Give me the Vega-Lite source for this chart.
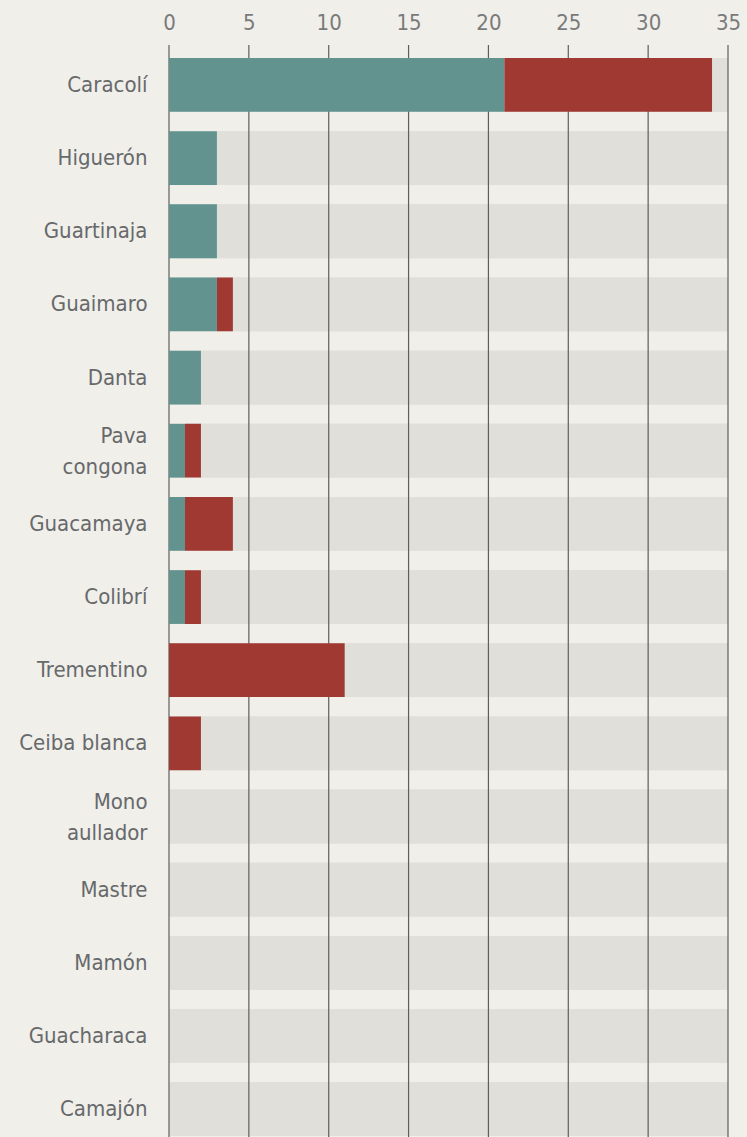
{
  "$schema": "https://vega.github.io/schema/vega-lite/v6.json",
  "autosize": {"type": "none"},
  "width": 559,
  "height": 1092,
  "padding": {"left": 169, "top": 45, "right": 19, "bottom": 0},
  "background": "#f0efea",
  "config": {
    "view": {"stroke": null},
    "font": "DejaVu Sans Condensed, Liberation Sans Narrow, Roboto, sans-serif"
  },
  "datasets": {
    "conteo": [
      {"especie": "Caracolí", "serie": "Grupo 1", "valor": 21},
      {"especie": "Caracolí", "serie": "Grupo 2", "valor": 13},
      {"especie": "Higuerón", "serie": "Grupo 1", "valor": 3},
      {"especie": "Higuerón", "serie": "Grupo 2", "valor": 0},
      {"especie": "Guartinaja", "serie": "Grupo 1", "valor": 3},
      {"especie": "Guartinaja", "serie": "Grupo 2", "valor": 0},
      {"especie": "Guaimaro", "serie": "Grupo 1", "valor": 3},
      {"especie": "Guaimaro", "serie": "Grupo 2", "valor": 1},
      {"especie": "Danta", "serie": "Grupo 1", "valor": 2},
      {"especie": "Danta", "serie": "Grupo 2", "valor": 0},
      {"especie": "Pava congona", "serie": "Grupo 1", "valor": 1},
      {"especie": "Pava congona", "serie": "Grupo 2", "valor": 1},
      {"especie": "Guacamaya", "serie": "Grupo 1", "valor": 1},
      {"especie": "Guacamaya", "serie": "Grupo 2", "valor": 3},
      {"especie": "Colibrí", "serie": "Grupo 1", "valor": 1},
      {"especie": "Colibrí", "serie": "Grupo 2", "valor": 1},
      {"especie": "Trementino", "serie": "Grupo 1", "valor": 0},
      {"especie": "Trementino", "serie": "Grupo 2", "valor": 11},
      {"especie": "Ceiba blanca", "serie": "Grupo 1", "valor": 0},
      {"especie": "Ceiba blanca", "serie": "Grupo 2", "valor": 2},
      {"especie": "Mono aullador", "serie": "Grupo 1", "valor": 0},
      {"especie": "Mono aullador", "serie": "Grupo 2", "valor": 0},
      {"especie": "Mastre", "serie": "Grupo 1", "valor": 0},
      {"especie": "Mastre", "serie": "Grupo 2", "valor": 0},
      {"especie": "Mamón", "serie": "Grupo 1", "valor": 0},
      {"especie": "Mamón", "serie": "Grupo 2", "valor": 0},
      {"especie": "Guacharaca", "serie": "Grupo 1", "valor": 0},
      {"especie": "Guacharaca", "serie": "Grupo 2", "valor": 0},
      {"especie": "Camajón", "serie": "Grupo 1", "valor": 0},
      {"especie": "Camajón", "serie": "Grupo 2", "valor": 0}
    ],
    "marcas": [
      {"v": 0}, {"v": 5}, {"v": 10}, {"v": 15}, {"v": 20}, {"v": 25}, {"v": 30}, {"v": 35}
    ]
  },
  "encoding": {
    "y": {
      "field": "especie",
      "type": "nominal",
      "sort": null,
      "scale": {
        "domain": ["Caracolí", "Higuerón", "Guartinaja", "Guaimaro", "Danta", "Pava congona", "Guacamaya", "Colibrí", "Trementino", "Ceiba blanca", "Mono aullador", "Mastre", "Mamón", "Guacharaca", "Camajón"],
        "paddingInner": 0.265,
        "paddingOuter": 0.096,
        "align": 0.93
      },
      "axis": {
        "title": null,
        "domain": false,
        "ticks": false,
        "labelPadding": 22,
        "labelFontSize": 22,
        "labelColor": "#67696b",
        "labelLineHeight": 31,
        "labelOffset": {"condition": {"test": "datum.value == 'Pava congona' || datum.value == 'Mono aullador'", "value": -15}, "value": 0},
        "labelExpr": "datum.value == 'Pava congona' ? ['Pava', 'congona'] : datum.value == 'Mono aullador' ? ['Mono', 'aullador'] : datum.label"
      }
    }
  },
  "layer": [
    {
      "data": {"name": "conteo"},
      "mark": {"type": "bar", "color": "#e0dfda"},
      "encoding": {
        "x": {"datum": 0, "type": "quantitative"},
        "x2": {"datum": 35}
      }
    },
    {
      "data": {"name": "marcas"},
      "mark": {"type": "rule", "color": "#5e5e5e", "strokeWidth": 1.2},
      "encoding": {
        "x": {"field": "v", "type": "quantitative"},
        "y": null
      }
    },
    {
      "data": {"name": "conteo"},
      "mark": {"type": "bar"},
      "encoding": {
        "x": {
          "field": "valor",
          "type": "quantitative",
          "stack": "zero",
          "scale": {"domain": [0, 35], "nice": false},
          "axis": {
            "orient": "top",
            "title": null,
            "values": [0, 5, 10, 15, 20, 25, 30, 35],
            "domain": false,
            "ticks": false,
            "grid": false,
            "labelPadding": 11,
            "labelFontSize": 22,
            "labelFontWeight": 200,
            "labelColor": "#7a7a7a",
            "labelFlush": false
          }
        },
        "color": {
          "field": "serie",
          "type": "nominal",
          "scale": {"domain": ["Grupo 1", "Grupo 2"], "range": ["#62938f", "#a03932"]},
          "legend": null
        },
        "order": {"field": "serie"}
      }
    }
  ]
}
